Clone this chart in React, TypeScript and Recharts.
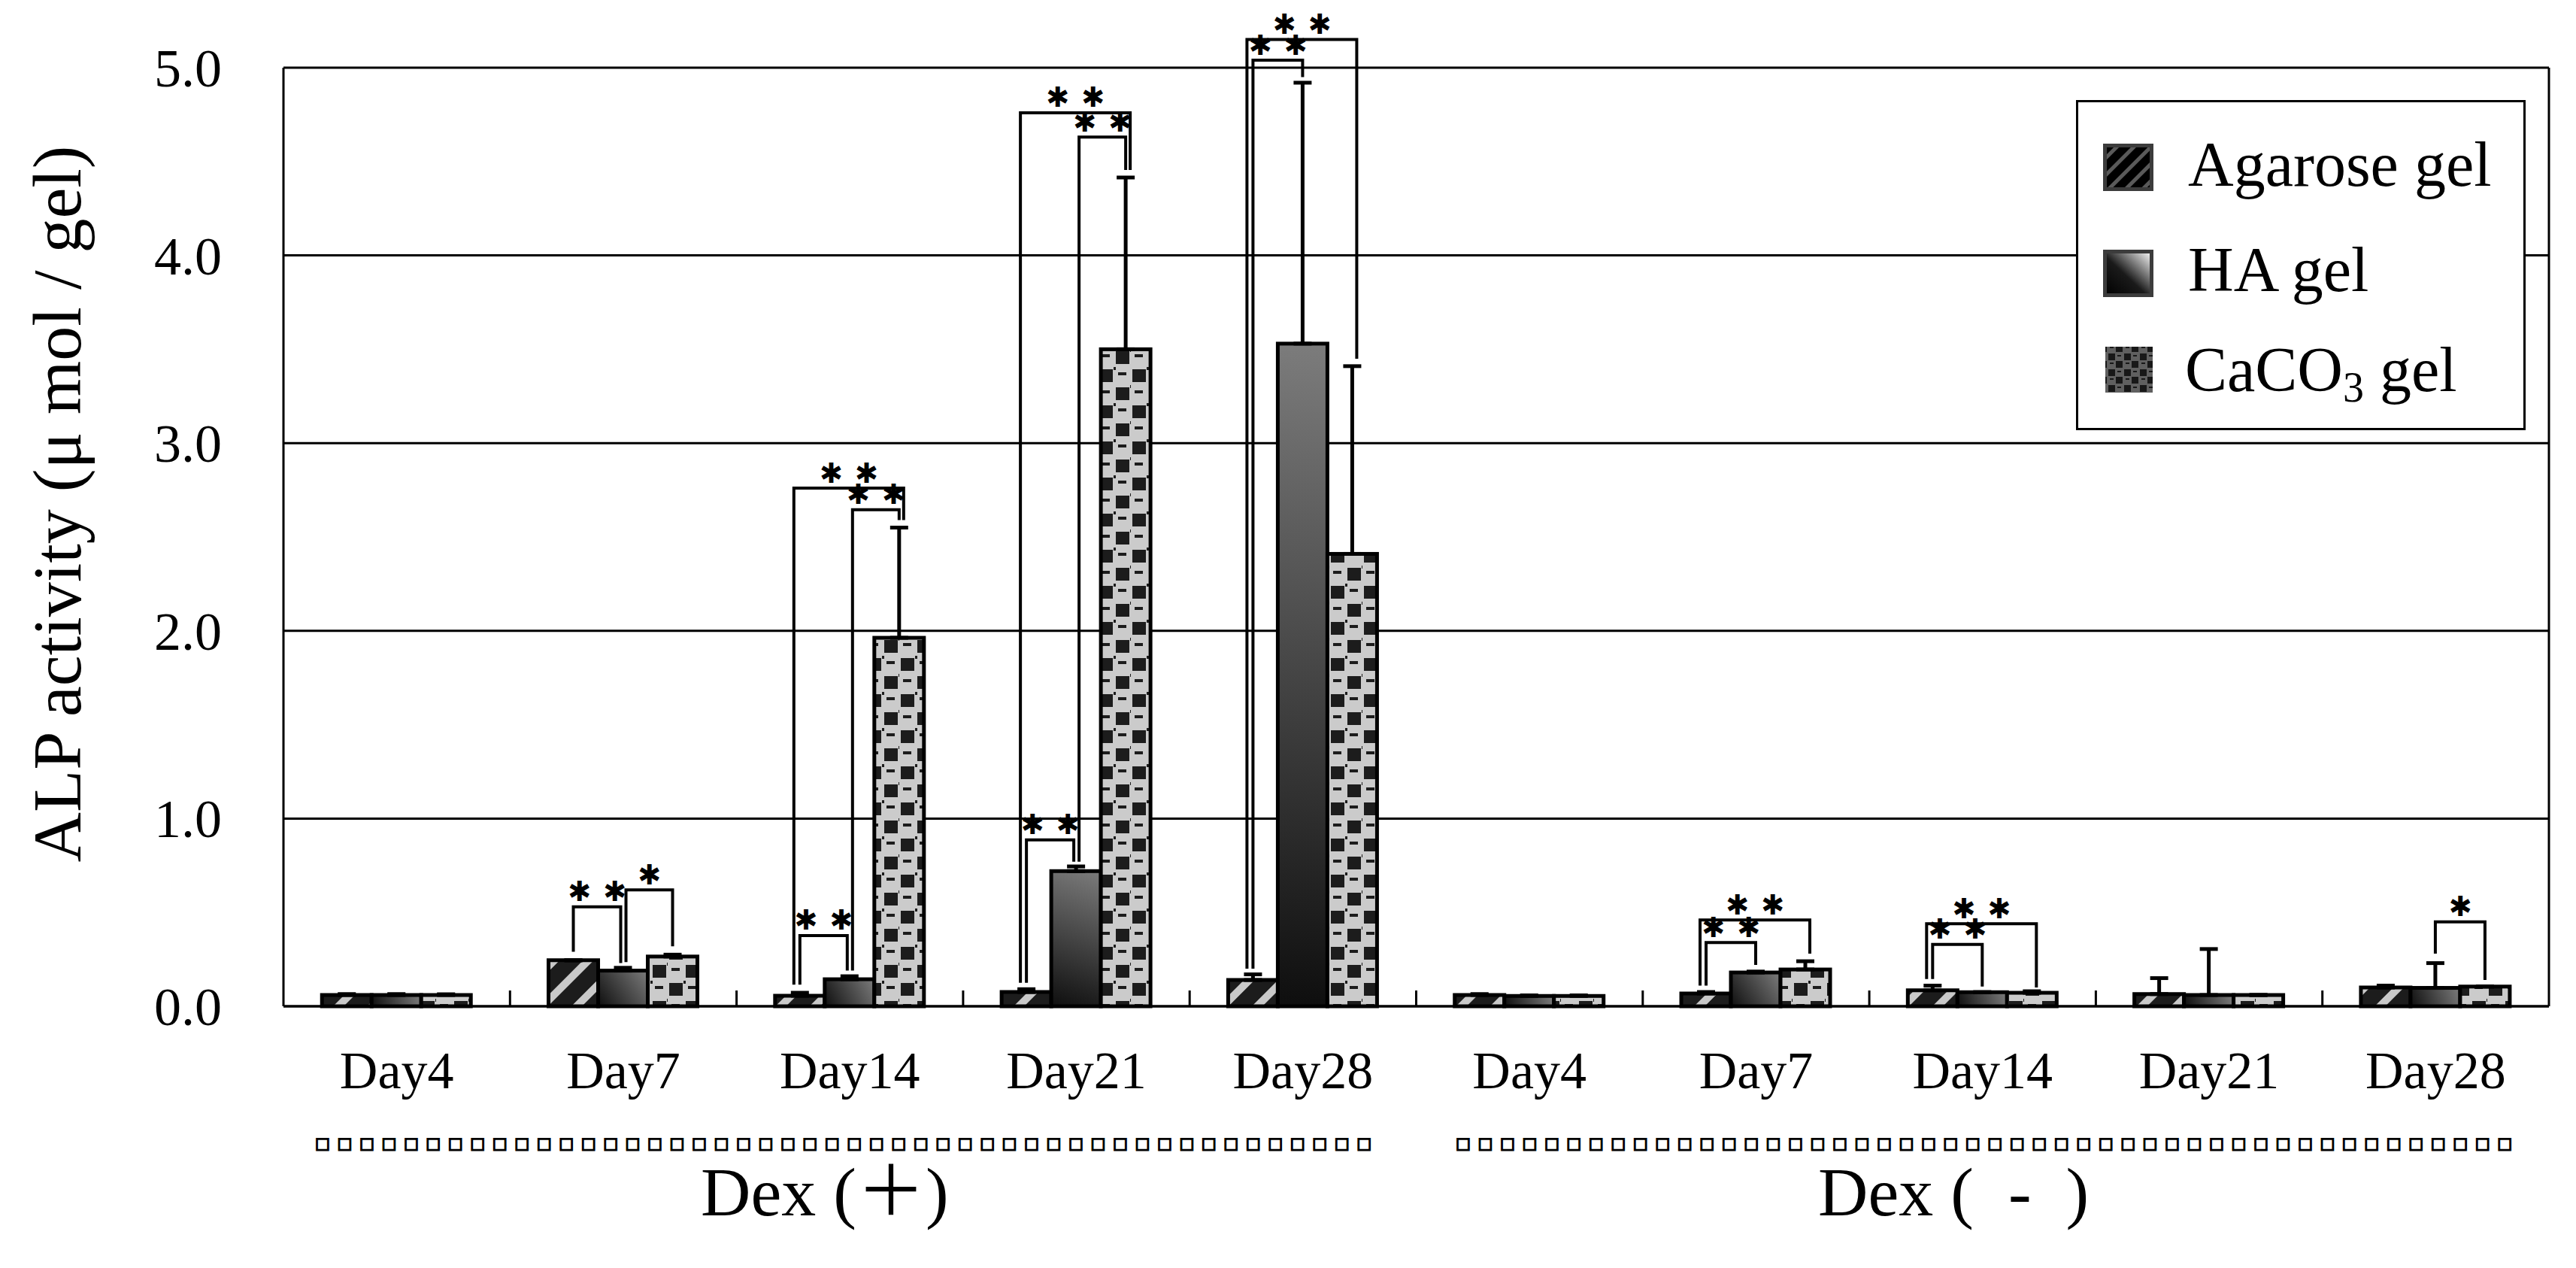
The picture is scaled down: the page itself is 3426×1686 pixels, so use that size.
import React from 'react';
import { BarChart, Bar, XAxis, YAxis, CartesianGrid, ErrorBar, Legend } from 'recharts';

// ---------- data ----------
const categoryKeys = ['p4', 'p7', 'p14', 'p21', 'p28', 'm4', 'm7', 'm14', 'm21', 'm28'];
const dayLabels = ['Day4', 'Day7', 'Day14', 'Day21', 'Day28', 'Day4', 'Day7', 'Day14', 'Day21', 'Day28'];
const groupLabels = ['Dex (\uFF0B)', 'Dex\u00A0(\u00A0\u00A0-\u00A0\u00A0)'];
const seriesNames = ['Agarose gel', 'HA gel', 'CaCO3 gel'];
const yTicks = [0, 1, 2, 3, 4, 5];

const agaroseMean = [0.06, 0.245, 0.056, 0.076, 0.14, 0.06, 0.068, 0.085, 0.065, 0.1];
const agaroseErr = [0.005, 0, 0.016, 0.015, 0.03, 0.005, 0.008, 0.025, 0.085, 0.01];
const haMean = [0.06, 0.19, 0.144, 0.72, 3.53, 0.055, 0.18, 0.075, 0.06, 0.098];
const haErr = [0.005, 0.015, 0.016, 0.025, 1.39, 0.003, 0.005, 0, 0.245, 0.132];
const caco3Mean = [0.06, 0.265, 1.963, 3.5, 2.41, 0.055, 0.196, 0.072, 0.06, 0.105];
const caco3Err = [0.004, 0.01, 0.587, 0.915, 1.0, 0.003, 0.044, 0.008, 0, 0];

// significance brackets: category index, from bar, to bar, bracket top, left leg end, right leg end, number of stars
type Bracket = { cat: number; from: number; to: number; top: number; leftEnd: number; rightEnd: number; stars: number };
const brackets: Bracket[] = [
  { cat: 1, from: 0, to: 1, top: 0.53, leftEnd: 0.29, rightEnd: 0.23, stars: 2 },
  { cat: 1, from: 1, to: 2, top: 0.62, leftEnd: 0.235, rightEnd: 0.32, stars: 1 },
  { cat: 2, from: 0, to: 1, top: 0.377, leftEnd: 0.115, rightEnd: 0.19, stars: 2 },
  { cat: 2, from: 1, to: 2, top: 2.645, leftEnd: 0.19, rightEnd: 2.59, stars: 2 },
  { cat: 2, from: 0, to: 2, top: 2.76, leftEnd: 0.115, rightEnd: 2.59, stars: 2 },
  { cat: 3, from: 0, to: 1, top: 0.886, leftEnd: 0.125, rightEnd: 0.77, stars: 2 },
  { cat: 3, from: 1, to: 2, top: 4.63, leftEnd: 0.77, rightEnd: 4.455, stars: 2 },
  { cat: 3, from: 0, to: 2, top: 4.76, leftEnd: 0.125, rightEnd: 4.455, stars: 2 },
  { cat: 4, from: 0, to: 1, top: 5.04, leftEnd: 0.2, rightEnd: 4.95, stars: 2 },
  { cat: 4, from: 0, to: 2, top: 5.15, leftEnd: 0.2, rightEnd: 3.45, stars: 2 },
  { cat: 6, from: 0, to: 1, top: 0.34, leftEnd: 0.11, rightEnd: 0.22, stars: 2 },
  { cat: 6, from: 0, to: 2, top: 0.46, leftEnd: 0.11, rightEnd: 0.28, stars: 2 },
  { cat: 7, from: 0, to: 1, top: 0.33, leftEnd: 0.145, rightEnd: 0.105, stars: 2 },
  { cat: 7, from: 0, to: 2, top: 0.44, leftEnd: 0.145, rightEnd: 0.1, stars: 2 },
  { cat: 9, from: 1, to: 2, top: 0.45, leftEnd: 0.28, rightEnd: 0.14, stars: 1 },
];

const data = categoryKeys.map((key, i) => ({
  key,
  agarose: agaroseMean[i],
  agaroseErr: [0, agaroseErr[i]],
  ha: haMean[i],
  haErr: [0, haErr[i]],
  caco3: caco3Mean[i],
  caco3Err: [0, caco3Err[i]],
}));

// ---------- layout ----------
const W = 3410;
const H = 1670;
const SERIF = '"Liberation Serif", "Times New Roman", serif';
const STAR_FONT = '"DejaVu Sans", sans-serif';

function PatternDefs() {
  return (
    <svg width={0} height={0} style={{ position: 'absolute' }}>
      <defs>
        <pattern id="agarosePat" patternUnits="userSpaceOnUse" width={32} height={32} patternTransform="rotate(-45)">
          <rect x={0} y={0} width={32} height={32} fill="#1c1c1c" />
          <rect x={0} y={0} width={32} height={10} fill="#c9c9c9" />
        </pattern>
        <pattern id="caco3Pat" patternUnits="userSpaceOnUse" width={44} height={48}>
          <rect x={0} y={0} width={44} height={48} fill="#cbcbcb" />
          <rect x={2} y={3} width={18} height={17} fill="#1c1c1c" />
          <rect x={24} y={27} width={18} height={17} fill="#1c1c1c" />
          <rect x={27} y={7} width={11} height={4} fill="#1c1c1c" />
          <rect x={5} y={31} width={11} height={4} fill="#1c1c1c" />
          <rect x={21} y={0} width={3} height={4} fill="#1c1c1c" />
          <rect x={43} y={24} width={1} height={4} fill="#1c1c1c" />
        </pattern>
        <pattern id="legAgPat" patternUnits="userSpaceOnUse" width={16} height={16} patternTransform="rotate(-45)">
          <rect x={0} y={0} width={16} height={16} fill="#000" />
          <rect x={0} y={0} width={16} height={5} fill="#5a5a5a" />
        </pattern>
        <pattern id="legCaPat" patternUnits="userSpaceOnUse" width={21} height={21}>
          <rect x={0} y={0} width={21} height={21} fill="#606060" />
          <rect x={1} y={1} width={9} height={9} fill="#181818" />
          <rect x={11} y={11} width={9} height={9} fill="#181818" />
          <rect x={13} y={3} width={5} height={2} fill="#181818" />
          <rect x={3} y={13} width={5} height={2} fill="#181818" />
        </pattern>
        <linearGradient id="legHaGrad" x1="0" y1="1" x2="1" y2="0">
          <stop offset="0" stopColor="#000" />
          <stop offset="0.45" stopColor="#1a1a1a" />
          <stop offset="1" stopColor="#ffffff" />
        </linearGradient>
      </defs>
    </svg>
  );
}

function HAShape(props: any) {
  const { x, y, width, height, index } = props;
  if (!(height > 0)) return null;
  const id = `haGrad${index}`;
  return (
    <g>
      <defs>
        <linearGradient id={id} gradientUnits="userSpaceOnUse" x1={x} y1={y + height} x2={x + width} y2={y}>
          <stop offset="0" stopColor="#0e0e0e" />
          <stop offset="1" stopColor="#7c7c7c" />
        </linearGradient>
      </defs>
      <rect x={x} y={y} width={width} height={height} fill={`url(#${id})`} stroke="#000" strokeWidth={5} />
    </g>
  );
}

function CaCO3Shape(props: any) {
  const { x, y, width, height, index, payload } = props;
  if (!(height > 0)) return null;
  const v = payload.caco3;
  const zeroY = y + height;
  const ppu = height / v;
  const toY = (val: number) => zeroY - val * ppu;
  const cx = (i: number) => x + width * (i - 2) + width / 2;
  const own = brackets.filter((b) => b.cat === index);
  const hasAH = own.some((b) => b.from === 0 && b.to === 1);
  const hasHC = own.some((b) => b.from === 1 && b.to === 2);
  return (
    <g>
      <rect x={x} y={y} width={width} height={height} fill="url(#caco3Pat)" stroke="#000" strokeWidth={5} />
      {own.map((b, k) => {
        const span = b.to - b.from;
        let lo = 0;
        let ro = 0;
        if (span === 2) {
          lo = -8;
          ro = 6;
        } else if (b.from === 0 && hasHC) {
          ro = -3;
        } else if (b.from === 1 && hasAH) {
          lo = 4;
        }
        const lx = cx(b.from) + lo;
        const rx = cx(b.to) + ro;
        const ty = toY(b.top);
        const mid = (lx + rx) / 2;
        const starXs = b.stars === 2 ? [mid - 23.5, mid + 23.5] : [mid];
        return (
          <g key={k}>
            <path
              d={`M${lx},${toY(b.leftEnd)}V${ty}H${rx}V${toY(b.rightEnd)}`}
              fill="none"
              stroke="#000"
              strokeWidth={4}
            />
            {starXs.map((sx, j) => (
              <text
                key={j}
                x={sx}
                y={ty - 20}
                textAnchor="middle"
                dominantBaseline="central"
                fontFamily={STAR_FONT}
                fontSize={37}
                fill="#000"
              >
                {'\u2731'}
              </text>
            ))}
          </g>
        );
      })}
    </g>
  );
}

function DayTick(props: any) {
  const { x, y, payload, index, width, visibleTicksCount } = props;
  const count = visibleTicksCount || categoryKeys.length;
  const half = typeof width === 'number' && width > 0 ? width / count / 2 : (payload && payload.offset) || 0;
  const i = typeof index === 'number' ? index : categoryKeys.indexOf(payload.value);
  return (
    <g>
      <text x={x} y={y + 109} textAnchor="middle" fontFamily={SERIF} fontSize={70} fill="#000">
        {dayLabels[i]}
      </text>
      {i > 0 && <line x1={x - half} x2={x - half} y1={y} y2={y - 21} stroke="#000" strokeWidth={3} />}
    </g>
  );
}

function YTick(props: any) {
  const { x, y, payload } = props;
  return (
    <text x={x - 82} y={y + 25} textAnchor="end" fontFamily={SERIF} fontSize={72} fill="#000">
      {Number(payload.value).toFixed(1)}
    </text>
  );
}

function YLabel() {
  return (
    <text
      x={99}
      y={662}
      transform="rotate(-90 99 662)"
      textAnchor="middle"
      fontFamily={SERIF}
      fontSize={92}
      fill="#000"
    >
      ALP activity (μ mol / gel)
    </text>
  );
}

function GroupLabels() {
  const boxes = '\u25A1'.repeat(48);
  const boxStyle = {
    fontFamily: '"DejaVu Sans", sans-serif',
    fontSize: 21,
    fill: '#000',
    stroke: '#000',
    strokeWidth: 1.6,
  } as const;
  return (
    <g>
      <text x={411} y={1519} textLength={1405} lengthAdjust="spacing" {...boxStyle}>
        {boxes}
      </text>
      <text x={1928} y={1519} textLength={1405} lengthAdjust="spacing" {...boxStyle}>
        {boxes}
      </text>
      <text x={924} y={1608} fontFamily={`${SERIF}, "Noto Sans CJK JP"`} fontSize={92} fill="#000">
        {groupLabels[0]}
      </text>
      <text x={2410} y={1608} fontFamily={SERIF} fontSize={92} fill="#000">
        {groupLabels[1]}
      </text>
    </g>
  );
}

function LegendBox(props: any) {
  const given: any[] = (props && props.payload) || [];
  const ordered = seriesNames.map((n) => given.find((p) => p && p.value === n) || { value: n });
  const rows = [
    { swTop: 58, baseline: 114 },
    { swTop: 199, baseline: 254 },
    { swTop: 328, baseline: 387 },
  ];
  return (
    <svg width={598} height={439} style={{ display: 'block' }}>
      <rect x={1.5} y={1.5} width={595} height={436} fill="#fff" stroke="#000" strokeWidth={3} />
      {ordered.map((entry: any, i: number) => {
        const name = String(entry.value);
        const r = rows[i];
        let swatch;
        if (name.startsWith('Agarose')) {
          swatch = <rect x={38.5} y={r.swTop + 2.5} width={62} height={58} fill="url(#legAgPat)" stroke="#3c3c3c" strokeWidth={5} />;
        } else if (name.startsWith('HA')) {
          swatch = <rect x={38.5} y={r.swTop + 2.5} width={62} height={58} fill="url(#legHaGrad)" stroke="#3c3c3c" strokeWidth={5} />;
        } else {
          swatch = <rect x={39} y={r.swTop} width={63} height={61} fill="url(#legCaPat)" />;
        }
        let label;
        if (name.startsWith('CaCO3')) {
          label = (
            <text x={145} y={r.baseline} fontFamily={SERIF} fontSize={84} fill="#000">
              <tspan>CaCO</tspan>
              <tspan fontSize={56} dy={14}>3</tspan>
              <tspan dy={-14}> gel</tspan>
            </text>
          );
        } else {
          label = (
            <text x={149} y={r.baseline} fontFamily={SERIF} fontSize={84} fill="#000">
              {name}
            </text>
          );
        }
        return (
          <g key={name}>
            {swatch}
            {label}
          </g>
        );
      })}
    </svg>
  );
}

export default function App() {
  return (
    <div style={{ position: 'relative', width: W, height: H }}>
      <PatternDefs />
      <BarChart
        width={W}
        height={H}
        data={data}
        margin={{ top: 82, right: 0, bottom: 0, left: 0 }}
        barCategoryGap="17%"
        barGap={0}
      >
        <CartesianGrid horizontal vertical={false} stroke="#000" strokeWidth={3} />
        <XAxis
          dataKey="key"
          height={340}
          interval={0}
          tickSize={0}
          tickMargin={0}
          tickLine={false}
          axisLine={{ stroke: '#000', strokeWidth: 3 }}
          tick={<DayTick />}
          label={<GroupLabels />}
        />
        <YAxis
          width={369}
          domain={[0, 5]}
          ticks={yTicks}
          interval={0}
          tickSize={0}
          tickMargin={0}
          tickLine={false}
          axisLine={{ stroke: '#000', strokeWidth: 3 }}
          tick={<YTick />}
          label={<YLabel />}
        />
        <YAxis
          yAxisId="right"
          orientation="right"
          width={28}
          domain={[0, 5]}
          tick={false}
          tickLine={false}
          axisLine={{ stroke: '#000', strokeWidth: 3 }}
        />
        <Legend
          layout="vertical"
          align="center"
          verticalAlign="middle"
          wrapperStyle={{ position: 'absolute', left: 2753, top: 125, width: 598, height: 439 }}
          content={<LegendBox />}
        />
        <Bar dataKey="agarose" name={seriesNames[0]} fill="url(#agarosePat)" stroke="#000" strokeWidth={5} isAnimationActive={false}>
          <ErrorBar dataKey="agaroseErr" width={12} strokeWidth={5} stroke="#000" />
        </Bar>
        <Bar dataKey="ha" name={seriesNames[1]} shape={<HAShape />} isAnimationActive={false}>
          <ErrorBar dataKey="haErr" width={12} strokeWidth={5} stroke="#000" />
        </Bar>
        <Bar dataKey="caco3" name={seriesNames[2]} shape={<CaCO3Shape />} isAnimationActive={false}>
          <ErrorBar dataKey="caco3Err" width={12} strokeWidth={5} stroke="#000" />
        </Bar>
      </BarChart>
    </div>
  );
}
